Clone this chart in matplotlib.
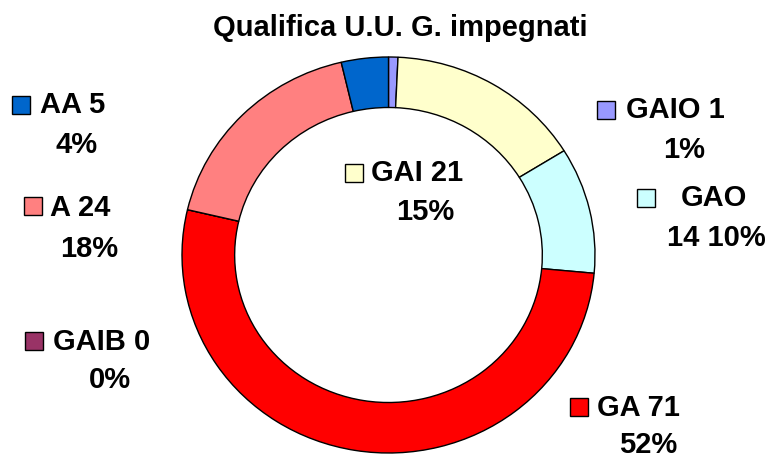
import matplotlib.pyplot as plt
from matplotlib.patches import Rectangle

# data, clockwise from the top
labels = ["GAIO", "GAI", "GAO", "GA", "GAIB", "A", "AA"]
counts = [1, 21, 14, 71, 0, 24, 5]
colors = ["#9999FF", "#FFFFCC", "#CCFFFF", "#FF0000", "#993366", "#FF8080", "#0066CC"]

# label blocks: line1, line2 (as printed in the picture)
line1 = ["GAIO 1", "GAI 21", "GAO", "GA 71", "GAIB 0", "A 24", "AA 5"]
line2 = ["1%", "15%", "14 10%", "52%", "0%", "18%", "4%"]
# pixel positions: square left, square top, text left, line1 y, line2 centre x, line2 y
spots = [
    (597, 101, 626, 110, 684, 150),
    (345, 164, 371, 173, 425, 212),
    (637, 189, 681, 198, 716, 238),
    (570, 398, 597, 408, 648, 445),
    (25, 332, 53, 342, 110, 380),
    (24, 197, 50, 208, 89, 249),
    (12, 96, 40, 105, 77, 145),
]

W, H = 774, 459
fig = plt.figure(figsize=(W / 100, H / 100), dpi=100)
plt.rcParams['font.family'] = ['Liberation Sans', 'DejaVu Sans']

# axes spanning the ring's bounding box (ring is slightly wider than tall)
left, top, right, bottom = 182, 57, 595, 453
ax = fig.add_axes([left / W, 1 - bottom / H, (right - left) / W, (bottom - top) / H])
ax.pie(counts, colors=colors, startangle=90, counterclock=False, radius=1,
       wedgeprops=dict(width=0.255, edgecolor="black", linewidth=1))
ax.set_aspect('auto')
ax.set_xlim(-1, 1)
ax.set_ylim(-1, 1)
ax.axis('off')

fs = 21
fig.text(400 / W, 1 - 28 / H, "Qualifica U.U. G. impegnati", ha="center", va="center",
         fontsize=fs, fontweight="bold")

for i in range(len(labels)):
    sx, sy, tx, ty, cx, cy = spots[i]
    fig.patches.append(Rectangle((sx / W, 1 - (sy + 18) / H), 18 / W, 18 / H,
                                 transform=fig.transFigure, facecolor=colors[i],
                                 edgecolor="black", linewidth=1))
    fig.text(tx / W, 1 - ty / H, line1[i], ha="left", va="center", fontsize=fs, fontweight="bold")
    fig.text(cx / W, 1 - cy / H, line2[i], ha="center", va="center", fontsize=fs, fontweight="bold")

fig.savefig("out.png", dpi=100)
